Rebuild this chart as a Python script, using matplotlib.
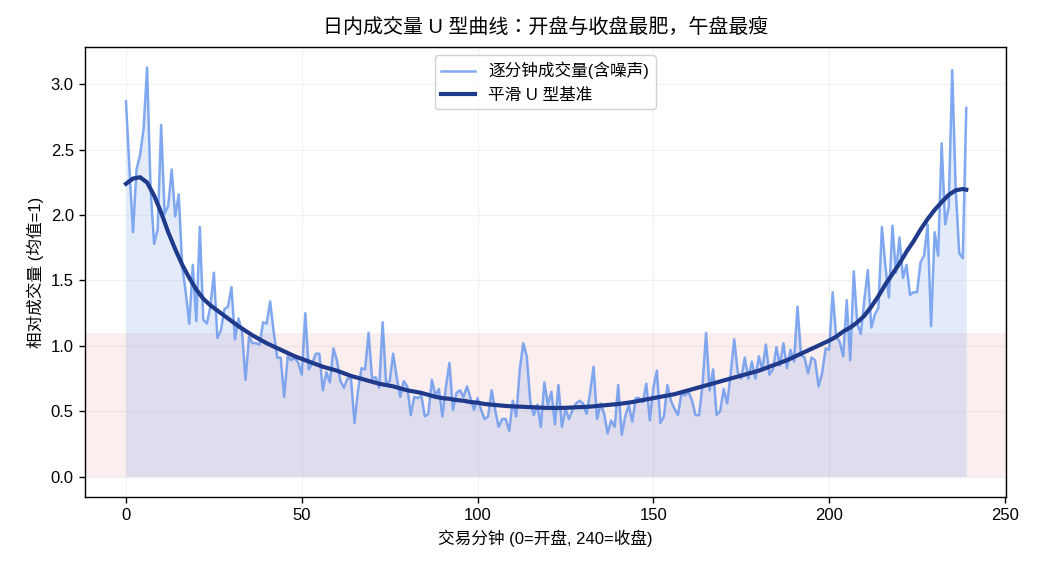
import matplotlib
matplotlib.use("Agg")
import matplotlib.pyplot as plt

plt.rcParams['font.family'] = ['Liberation Sans', 'Noto Sans CJK SC', 'DejaVu Sans']
plt.rcParams['axes.unicode_minus'] = False

# noisy per-minute volume (relative, mean = 1), minutes 0..239
volume = [
    2.87, 2.35, 1.87, 2.35, 2.46, 2.66, 3.13, 2.20, 1.78, 1.89,
    2.69, 2.01, 2.07, 2.35, 1.99, 2.16, 1.61, 1.41, 1.17, 1.62,
    1.19, 1.91, 1.20, 1.17, 1.30, 1.56, 1.06, 1.12, 1.28, 1.30,
    1.45, 1.05, 1.21, 1.11, 0.74, 1.07, 1.02, 1.02, 1.01, 1.18,
    1.17, 1.34, 1.11, 0.91, 0.91, 0.61, 0.92, 0.89, 0.91, 0.87,
    0.78, 1.25, 0.82, 0.87, 0.94, 0.94, 0.66, 0.80, 0.72, 0.98,
    0.89, 0.73, 0.68, 0.75, 0.75, 0.41, 0.66, 0.83, 0.82, 1.10,
    0.75, 0.76, 0.68, 1.18, 0.71, 0.73, 0.94, 0.76, 0.61, 0.73,
    0.69, 0.47, 0.61, 0.60, 0.62, 0.46, 0.48, 0.74, 0.62, 0.67,
    0.46, 0.69, 0.87, 0.51, 0.64, 0.66, 0.61, 0.69, 0.60, 0.51,
    0.60, 0.51, 0.44, 0.46, 0.66, 0.51, 0.38, 0.44, 0.44, 0.35,
    0.58, 0.46, 0.82, 1.02, 0.92, 0.57, 0.47, 0.55, 0.38, 0.72,
    0.55, 0.65, 0.40, 0.70, 0.38, 0.52, 0.44, 0.51, 0.56, 0.58,
    0.56, 0.48, 0.64, 0.84, 0.44, 0.56, 0.48, 0.33, 0.43, 0.38,
    0.70, 0.32, 0.46, 0.55, 0.42, 0.60, 0.60, 0.57, 0.71, 0.43,
    0.68, 0.81, 0.41, 0.46, 0.70, 0.58, 0.52, 0.47, 0.64, 0.62,
    0.65, 0.58, 0.47, 0.47, 0.71, 1.10, 0.66, 0.82, 0.47, 0.50,
    0.67, 0.56, 0.79, 1.05, 0.80, 0.75, 0.91, 0.75, 0.88, 0.75,
    0.92, 0.82, 1.01, 0.78, 0.82, 0.99, 0.85, 1.02, 0.83, 0.97,
    0.88, 1.30, 0.93, 0.91, 0.79, 0.91, 0.89, 0.69, 0.79, 0.98,
    0.97, 1.41, 1.07, 1.03, 0.92, 1.35, 0.89, 1.57, 1.17, 1.09,
    1.35, 1.58, 1.14, 1.24, 1.29, 1.91, 1.61, 1.37, 1.92, 1.56,
    1.83, 1.52, 1.62, 1.39, 1.41, 1.41, 1.64, 1.69, 1.93, 1.15,
    1.87, 1.69, 2.55, 1.93, 2.06, 3.11, 2.20, 1.71, 1.67, 2.82,
]
minutes = list(range(len(volume)))

# smooth U-shaped baseline, read every 2 minutes
smooth_minutes = list(range(0, 240, 2)) + [239]
smooth_values = [
    2.24, 2.28, 2.29, 2.25, 2.15, 2.02, 1.87, 1.74, 1.62, 1.52,
    1.43, 1.36, 1.31, 1.27, 1.23, 1.19, 1.15, 1.115, 1.08, 1.05,
    1.02, 0.995, 0.97, 0.945, 0.92, 0.90, 0.88, 0.86, 0.84, 0.825,
    0.81, 0.79, 0.77, 0.755, 0.74, 0.725, 0.71, 0.70, 0.69, 0.675,
    0.66, 0.65, 0.64, 0.625, 0.61, 0.60, 0.595, 0.585, 0.58, 0.57,
    0.565, 0.555, 0.55, 0.545, 0.54, 0.537, 0.535, 0.532, 0.53, 0.527,
    0.525, 0.525, 0.525, 0.527, 0.53, 0.532, 0.535, 0.54, 0.545, 0.55,
    0.555, 0.562, 0.57, 0.58, 0.59, 0.60, 0.61, 0.62, 0.63, 0.645,
    0.66, 0.675, 0.69, 0.705, 0.72, 0.735, 0.75, 0.765, 0.78, 0.795,
    0.81, 0.83, 0.85, 0.87, 0.89, 0.915, 0.94, 0.965, 0.99, 1.015,
    1.04, 1.07, 1.11, 1.14, 1.18, 1.23, 1.30, 1.38, 1.47, 1.55,
    1.63, 1.72, 1.80, 1.89, 1.97, 2.04, 2.10, 2.155, 2.19, 2.20,
    2.195,
]

band_low, band_high = 0.0, 1.1

fig = plt.figure(figsize=(10.4, 5.72), dpi=100)
ax = fig.add_axes([84.5 / 1040, 1 - 497 / 572, 921.5 / 1040, 450 / 572])

ax.axhspan(band_low, band_high, color='tab:red', alpha=0.08, lw=0)
ax.fill_between(minutes, 0, volume, color='cornflowerblue', alpha=0.18, lw=0)
ax.plot(minutes, volume, color='cornflowerblue', alpha=0.8, lw=1.8,
        label='逐分钟成交量(含噪声)')
ax.plot(smooth_minutes, smooth_values, color='#1f3a8a', lw=3.0,
        label='平滑 U 型基准')

ax.set_xlim(-11.8, 250.3)
ax.grid(True, alpha=0.25, color='#cccccc', lw=0.9)
ax.set_axisbelow(True)
ax.set_xticks([0, 50, 100, 150, 200, 250])
ax.set_yticks([0.0, 0.5, 1.0, 1.5, 2.0, 2.5, 3.0])
ax.tick_params(labelsize=12, width=1.0, length=4.2)
for s in ax.spines.values():
    s.set_linewidth(1.0)

ax.set_title('日内成交量 U 型曲线：开盘与收盘最肥，午盘最瘦', fontsize=14.4, pad=10,
             family=['Liberation Sans', 'Noto Sans CJK JP'])
ax.set_xlabel('交易分钟 (0=开盘, 240=收盘)', fontsize=12, labelpad=5)
ax.set_ylabel('相对成交量 (均值=1)', fontsize=12, labelpad=5)
ax.legend(loc='upper center', fontsize=12, framealpha=0.9)

fig.savefig('out.png', dpi=100)
